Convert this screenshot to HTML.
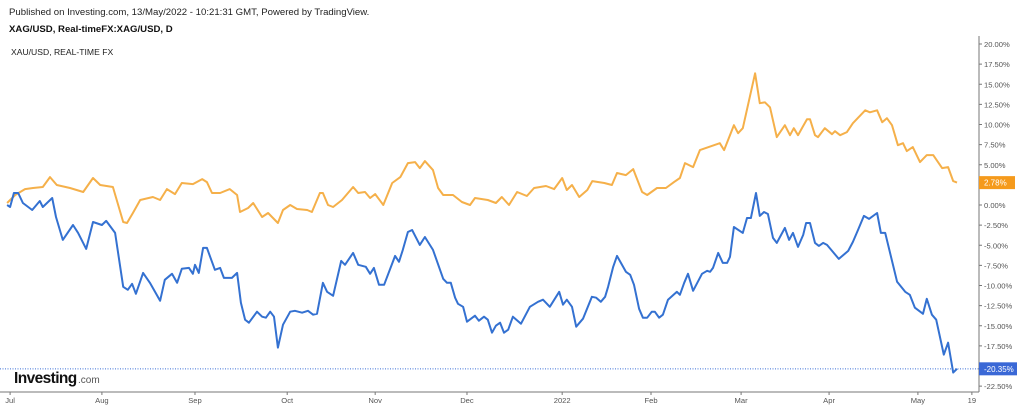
<!DOCTYPE html>
<html><head><meta charset="utf-8"><style>
html,body{margin:0;padding:0;background:#fff;width:1024px;height:409px;overflow:hidden;font-family:"Liberation Sans",sans-serif}
svg{display:block}
</style></head><body>
<svg id="chart" width="1024" height="409" viewBox="0 0 1024 409">
<text x="9" y="15" font-size="9.6" fill="#222">Published on Investing.com, 13/May/2022 - 10:21:31 GMT, Powered by TradingView.</text>
<text x="9" y="32" font-size="9.6" font-weight="bold" fill="#111">XAG/USD, Real-timeFX:XAG/USD, D</text>
<text x="11" y="55" font-size="8.6" fill="#222">XAU/USD, REAL-TIME FX</text>
<g id="yaxis"></g>
<g id="xaxis"></g>
<g id="series"></g>
<g><text x="14" y="383" font-size="15.5" font-weight="bold" fill="#111" letter-spacing="-0.6">Investing</text><text x="78" y="383" font-size="10" fill="#555">.com</text></g>
</svg>
<script>
const yTicks=[20,17.5,15,12.5,10,7.5,5,2.5,0,-2.5,-5,-7.5,-10,-12.5,-15,-17.5,-20,-22.5];
const monthLabels=["Jul","Aug","Sep","Oct","Nov","Dec","2022","Feb","Mar","Apr","May","19"];
const monthDays=[1.2,22.8,44.7,66.4,87.1,108.7,131.1,152.0,173.2,193.9,214.8,227.5];
const goldDays=[0.5,2.4,4.7,6.6,8.9,10.6,12.2,15.3,18.4,20.7,22.4,25.4,27.8,28.7,30.1,31.8,34.8,36.5,38.1,40.0,41.6,44.2,46.4,47.5,48.7,50.6,52.9,54.6,55.3,57.2,58.4,60.5,61.9,64.2,65.4,67.1,68.7,71.1,72.2,74.1,74.8,76.0,77.2,79.3,81.9,83.1,84.7,85.9,87.1,89.0,91.1,93.0,94.8,96.5,97.6,98.8,100.7,101.9,103.1,105.4,107.5,109.4,110.6,113.6,115.5,116.9,118.6,120.5,122.8,124.5,127.3,129.2,131.1,132.2,133.4,135.1,137.0,138.2,141.0,142.8,144.0,146.1,147.8,149.9,151.1,153.4,155.5,157.4,158.8,160.0,161.9,163.5,168.2,169.2,171.5,172.5,173.6,176.5,177.6,178.8,180.0,181.6,183.5,184.7,185.6,186.6,188.7,189.4,190.6,191.3,192.9,194.6,195.3,196.5,198.1,199.5,202.4,203.5,205.2,206.4,207.5,208.7,210.1,211.3,212.2,213.6,215.3,216.9,218.4,220.5,221.9,223.1,224.0];
const goldValues=[0.25,1.24,1.98,2.11,2.23,3.47,2.48,2.11,1.61,3.35,2.48,2.23,-2.11,-2.23,-0.99,0.62,0.99,0.62,1.98,1.36,2.73,2.60,3.22,2.85,1.49,1.49,1.98,1.24,-0.87,-0.37,0.25,-1.49,-0.99,-2.23,-0.62,0,-0.50,-0.62,-0.87,1.49,1.49,0,-0.25,0.62,2.23,1.49,1.61,0.87,1.36,0,2.73,3.47,5.20,5.33,4.59,5.45,4.34,2.11,1.24,1.24,0.37,0,0.87,0.62,0.25,0.99,0,1.61,1.12,2.11,2.36,1.98,3.35,1.86,2.48,0.99,1.86,2.97,2.73,2.48,3.97,3.72,4.46,1.61,1.24,2.11,2.11,2.85,3.35,5.20,4.71,6.82,7.68,6.82,9.91,8.92,9.54,16.36,12.64,12.76,12.14,8.43,9.91,8.67,9.54,8.67,10.66,10.66,8.67,8.43,9.54,8.80,9.17,8.67,9.05,10.16,11.77,11.52,11.77,10.29,10.78,9.91,7.43,7.68,6.69,7.19,5.33,6.20,6.20,4.59,4.71,2.97,2.78];
const silverDays=[0.5,1.2,2.1,3.1,4.2,6.4,8.2,8.9,11.1,12.0,13.6,16.0,17.2,19.1,20.7,22.8,23.8,25.9,27.8,28.9,29.9,30.8,32.5,34.1,36.5,37.6,39.3,40.5,41.6,43.3,44.2,44.7,45.6,46.6,47.5,49.4,50.6,51.5,53.4,54.6,55.5,56.5,57.4,59.3,60.5,61.4,62.4,63.3,64.2,65.4,67.1,68.2,69.9,71.3,72.5,73.4,74.8,75.8,77.2,79.1,80.0,81.9,83.1,84.9,85.9,86.8,88.0,89.2,91.8,92.7,93.6,94.8,95.8,97.6,98.8,100.7,103.1,104.0,104.9,105.9,106.6,107.8,108.7,110.6,111.5,112.7,113.6,114.6,115.5,116.5,117.4,118.4,119.5,121.4,123.5,125.4,126.6,128.2,130.4,131.3,132.2,133.4,134.4,136.0,138.1,139.1,140.2,141.2,141.9,143.1,144.0,146.1,147.1,148.0,149.2,150.1,151.1,152.2,152.9,153.9,154.8,156.0,158.1,158.8,159.8,160.7,161.9,164.0,165.2,165.9,166.6,167.8,168.9,169.9,170.6,171.5,173.6,174.6,175.5,176.7,177.6,178.6,179.5,180.7,181.6,183.5,184.5,185.4,186.6,187.8,188.5,189.4,190.6,191.5,192.5,193.4,194.8,196.2,198.4,199.5,200.7,202.1,203.3,205.2,206.1,207.1,209.9,211.8,212.9,214.1,216.0,216.9,218.1,219.1,220.9,221.9,223.1,224.0];
const silverValues=[0,-0.25,1.49,1.49,0.25,-0.62,0.50,-0.25,0.87,-1.49,-4.34,-2.48,-3.47,-5.45,-2.11,-2.48,-1.98,-3.47,-10.16,-10.53,-9.79,-11.03,-8.43,-9.67,-11.90,-9.29,-8.55,-9.67,-7.93,-7.81,-8.55,-7.43,-8.43,-5.33,-5.33,-8.05,-7.81,-9.05,-9.05,-8.43,-12.14,-14.25,-14.62,-13.26,-13.88,-14.00,-13.26,-13.88,-17.72,-14.87,-13.26,-13.14,-13.38,-13.14,-13.63,-13.51,-9.67,-10.78,-11.28,-6.94,-7.43,-5.95,-7.43,-7.68,-8.55,-7.81,-9.91,-9.91,-6.32,-7.06,-5.58,-3.35,-3.10,-4.96,-3.97,-5.58,-9.17,-9.67,-9.67,-11.52,-12.27,-12.64,-14.50,-13.75,-14.37,-13.88,-14.25,-15.86,-14.99,-14.62,-15.86,-15.49,-13.88,-14.75,-12.64,-12.02,-11.77,-12.64,-10.78,-12.39,-11.77,-12.64,-15.12,-14.13,-11.40,-11.52,-12.02,-11.40,-10.16,-7.68,-6.32,-8.30,-8.67,-9.91,-12.89,-14.00,-14.00,-13.26,-13.26,-14.00,-13.63,-11.77,-10.78,-11.15,-9.67,-8.55,-10.66,-8.55,-8.18,-8.30,-7.81,-5.95,-7.19,-7.19,-6.44,-2.73,-3.47,-1.61,-1.61,1.49,-1.36,-0.87,-1.12,-4.09,-4.71,-2.85,-4.34,-3.47,-5.20,-3.72,-2.23,-2.23,-4.71,-5.08,-4.71,-4.96,-5.82,-6.69,-5.70,-4.58,-3.10,-1.36,-1.73,-0.99,-3.47,-3.47,-9.54,-10.78,-11.15,-12.76,-13.51,-11.65,-13.63,-14.25,-18.59,-17.10,-20.82,-20.35];

const NS='http://www.w3.org/2000/svg';
const X=d=>5+d*4.25;
const Y=v=>205-v*8.05;
const AX=979, AXY=392;
function mk(tag,attrs,parent){const e=document.createElementNS(NS,tag);for(const k in attrs)e.setAttribute(k,attrs[k]);parent.appendChild(e);return e;}
const ya=document.getElementById('yaxis'), xa=document.getElementById('xaxis'), sg=document.getElementById('series');
const vline=mk('line',{x1:AX,y1:36,x2:AX,y2:AXY,stroke:'#777','stroke-width':1},ya);


yTicks.forEach(t=>{
  const y=Y(t);
  mk('line',{x1:AX,y1:y,x2:AX+3,y2:y,stroke:'#777'},ya);
  const tx=mk('text',{x:AX+5,y:y+3,'font-size':7.6,fill:'#555'},ya);
  tx.textContent=t.toFixed(2)+'%';
  
  
});
const hline=mk('line',{x1:0,y1:AXY,x2:AX,y2:AXY,stroke:'#777','stroke-width':1},xa);


monthLabels.forEach((m,i)=>{
  const x=X(monthDays[i]);
  mk('line',{x1:x,y1:AXY,x2:x,y2:AXY+3,stroke:'#777'},xa);
  const tx=mk('text',{x:x,y:AXY+11,'font-size':7.6,fill:'#555','text-anchor':'middle'},xa);
  tx.textContent=m;
  
  
});
function line(days,vals,color,name){
  const p=mk('polyline',{points:days.map((d,i)=>X(d).toFixed(1)+','+Y(vals[i]).toFixed(1)).join(' '),fill:'none',stroke:color,'stroke-width':2,'stroke-linejoin':'round'},sg);
  
  
}
const lastS=silverValues[silverValues.length-1], lastG=goldValues[goldValues.length-1];
const dl=mk('line',{x1:0,y1:Y(lastS),x2:AX,y2:Y(lastS),stroke:'#3a6fd8','stroke-width':1,'stroke-dasharray':'1,1.5'},sg);


line(goldDays,goldValues,'#f5b04a','xau-usd-line');
line(silverDays,silverValues,'#3471d1','xag-usd-line');
function badge(v,color,name,w){
  const y=Y(v);
  const g=mk('g',{},sg);
  
  
  mk('rect',{x:AX,y:y-6.5,width:w,height:13,fill:color},g);
  const t=mk('text',{x:AX+5,y:y+3,'font-size':8,fill:'#fff'},g);
  t.textContent=v.toFixed(2)+'%';
}
badge(lastG,'#f59a1c','xau-last-value-badge',36);
badge(lastS,'#3a68d6','xag-last-value-badge',38);
</script>
</body></html>
